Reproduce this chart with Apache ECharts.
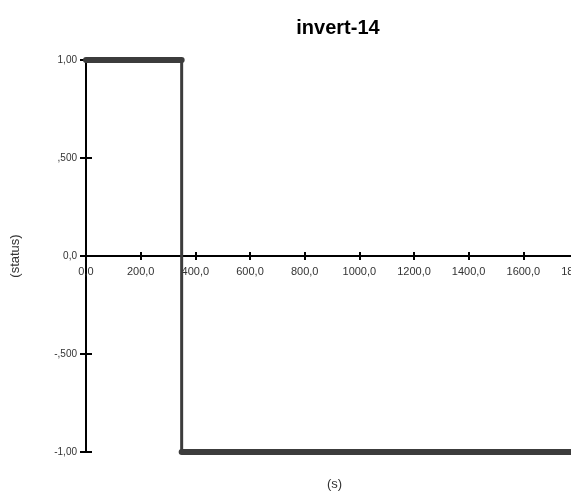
<!DOCTYPE html>
<html><head><meta charset="utf-8">
<script src="https://cdn.jsdelivr.net/npm/echarts@6/dist/echarts.min.js"></script>
<style>html,body{margin:0;padding:0;background:#fff;overflow:hidden}#c{width:600px;height:493px}</style>
</head><body><div id="c"></div>
<script>
var titleText = 'invert-14';
var xName = '(s)';
var yName = '(status)';
var times = [0, 350, 350, 1800];
var statusValues = [1, 1, -1, -1];
var yTickValues = [-1, -0.5, 0, 0.5, 1];
var yTickLabels = ['-1,00', '-,500', '0,0', ',500', '1,00'];

var lineData = times.map(function (t, i) { return [t, statusValues[i]]; });
// horizontal plateaus (drawn thicker, as in the original)
var plateauData = [];
for (var i = 0; i < times.length - 1; i++) {
  if (statusValues[i] === statusValues[i + 1]) {
    plateauData.push([times[i], statusValues[i]], [times[i + 1], statusValues[i + 1]], [null, null]);
  }
}
var font = 'Liberation Sans';
var xMin = 0, xMax = 1800, xStep = 200;
var yMin = -1, yMax = 1, yStep = 0.5;
var gridTop = 60, gridBottom = 41, chartH = 493;
var zeroOffset = -((chartH - gridBottom - gridTop) / 2);

var chart = echarts.init(document.getElementById('c'));
chart.setOption({
  animation: false,
  title: { text: titleText, left: 333, top: 13, textAlign: 'center',
    textStyle: { fontFamily: font, fontSize: 20, fontWeight: 'bold', color: '#000' } },
  grid: { left: 86, right: 22, top: gridTop, bottom: gridBottom, containLabel: false },
  graphic: [{ type: 'text', left: 327, top: 478,
    style: { text: xName, fontFamily: font, fontSize: 13, fill: '#333' } }],
  xAxis: [{
    type: 'value', min: xMin, max: xMax, interval: xStep, position: 'bottom', offset: zeroOffset,
    axisLine: { onZero: false, lineStyle: { color: '#000', width: 2 } },
    axisTick: { show: true, length: 4, lineStyle: { color: '#000', width: 2 } },
    axisLabel: { fontFamily: font, fontSize: 11, color: '#333', margin: 10,
      formatter: function (v) { return v.toFixed(1).replace('.', ','); } },
    splitLine: { show: false }
  }, {
    type: 'value', min: xMin, max: xMax, interval: xStep, position: 'bottom', offset: zeroOffset,
    axisLine: { show: false, onZero: false },
    axisTick: { show: true, inside: true, length: 4, lineStyle: { color: '#000', width: 2 } },
    axisLabel: { show: false }, splitLine: { show: false }
  }],
  yAxis: [{
    type: 'value', min: yMin, max: yMax, interval: yStep, position: 'left',
    name: yName, nameLocation: 'middle', nameGap: 64, nameRotate: 90,
    nameTextStyle: { fontFamily: font, fontSize: 13, color: '#333' },
    axisLine: { onZero: false, lineStyle: { color: '#000', width: 2 } },
    axisTick: { show: true, length: 6, lineStyle: { color: '#000', width: 2 } },
    axisLabel: { fontFamily: font, fontSize: 10, color: '#333', margin: 9,
      formatter: function (v) {
        for (var k = 0; k < yTickValues.length; k++) {
          if (Math.abs(yTickValues[k] - v) < 1e-9) return yTickLabels[k];
        }
        return '';
      } },
    splitLine: { show: false }
  }, {
    type: 'value', min: yMin, max: yMax, interval: yStep, position: 'left',
    axisLine: { show: false, onZero: false },
    axisTick: { show: true, inside: true, length: 6, lineStyle: { color: '#000', width: 2 } },
    axisLabel: { show: false }, splitLine: { show: false }
  }],
  series: [
    { type: 'line', data: lineData, showSymbol: false, clip: false,
      lineStyle: { color: '#3c3c3c', width: 3 } },
    { type: 'line', data: plateauData, showSymbol: false, connectNulls: false, clip: false,
      lineStyle: { color: '#3c3c3c', width: 6, cap: 'round' } }
  ]
});
</script></body></html>
